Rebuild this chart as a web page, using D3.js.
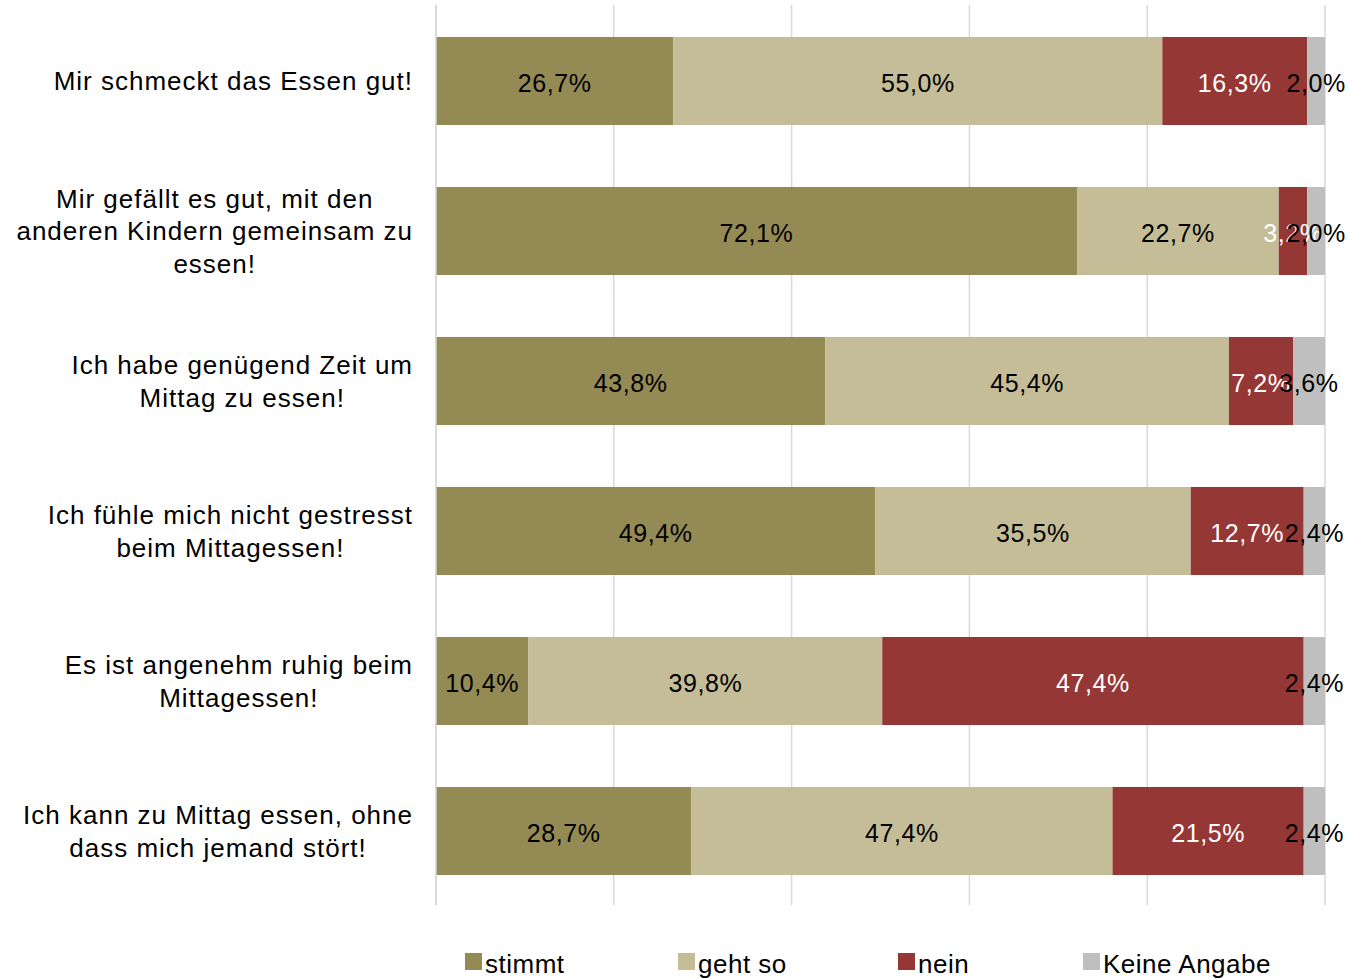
<!DOCTYPE html>
<html><head><meta charset="utf-8">
<script src="https://cdn.jsdelivr.net/npm/d3@7"></script>
<style>body{margin:0;background:#fff;}svg{display:block;font-family:"Liberation Sans",Arial,sans-serif;}</style>
</head><body><svg id="c" width="1350" height="978"></svg>
<script>
const categories = [
  ["Mir schmeckt das Essen gut!"],
  ["Mir gefällt es gut, mit den", "anderen Kindern gemeinsam zu", "essen!"],
  ["Ich habe genügend Zeit um", "Mittag zu essen!"],
  ["Ich fühle mich nicht gestresst", "beim Mittagessen!"],
  ["Es ist angenehm ruhig beim", "Mittagessen!"],
  ["Ich kann zu Mittag essen, ohne", "dass mich jemand stört!"]
];
const seriesNames = ["stimmt", "geht so", "nein", "Keine Angabe"];
const stimmt = [26.7, 72.1, 43.8, 49.4, 10.4, 28.7];
const gehtSo = [55.0, 22.7, 45.4, 35.5, 39.8, 47.4];
const nein = [16.3, 3.2, 7.2, 12.7, 47.4, 21.5];
const keineAngabe = [2.0, 2.0, 3.6, 2.4, 2.4, 2.4];
const xTicks = [0, 20, 40, 60, 80, 100];

const colors = ["#948A54", "#C4BD97", "#953735", "#BFBFBF"];
const labelColors = ["#000", "#000", "#fff", "#000"];
const series = [stimmt, gehtSo, nein, keineAngabe];

const svg = d3.select("#c");
const x = d3.scaleLinear().domain([0, 100]).range([436, 1325]);
const y = d3.scaleBand().domain(d3.range(categories.length)).range([6, 906]).paddingInner(0.413).paddingOuter(0.2065);

// gridlines
svg.append("g").selectAll("line").data(xTicks).join("line")
  .attr("x1", d => x(d)).attr("x2", d => x(d))
  .attr("y1", 5).attr("y2", 905)
  .attr("stroke", "#D9D9D9").attr("stroke-width", 1.5);

const rows = categories.map((c, i) => {
  let acc = 0;
  return series.map((s, k) => { const o = {row: i, k, v: s[i], x0: acc}; acc += s[i]; return o; });
}).flat();

svg.append("g").selectAll("rect").data(rows).join("rect")
  .attr("x", d => x(d.x0)).attr("width", d => x(d.x0 + d.v) - x(d.x0))
  .attr("y", d => y(d.row)).attr("height", y.bandwidth())
  .attr("fill", d => colors[d.k]);

// left axis line
svg.append("line").attr("x1", x(0)).attr("x2", x(0)).attr("y1", 5).attr("y2", 905)
  .attr("stroke", "#D9D9D9").attr("stroke-width", 1.5);

const fmt = v => v.toFixed(1).replace(".", ",") + "%";
svg.append("g").selectAll("text").data(rows).join("text")
  .attr("x", d => x(d.x0 + d.v / 2))
  .attr("y", d => y(d.row) + y.bandwidth() / 2 + 2)
  .attr("dy", "0.36em")
  .attr("text-anchor", "middle")
  .attr("font-size", 25)
  .attr("letter-spacing", "0.6px")
  .attr("fill", d => labelColors[d.k])
  .text(d => fmt(d.v));

// category labels
const lh = 32.5;
categories.forEach((lines, i) => {
  const g = svg.append("g");
  const cy = y(i) + y.bandwidth() / 2;
  const texts = lines.map((l, j) => g.append("text")
    .attr("font-size", 26).attr("letter-spacing", "1px").attr("text-anchor", "middle")
    .attr("y", cy + (j - (lines.length - 1) / 2) * lh).attr("dy", "0.36em").text(l));
  const maxW = d3.max(texts, t => t.node().getComputedTextLength());
  texts.forEach(t => t.attr("x", 413 - maxW / 2));
});

// legend
const legX = [465, 678, 898, 1083];
const lg = svg.append("g").selectAll("g").data(seriesNames).join("g")
  .attr("transform", (d, i) => `translate(${legX[i]},953)`);
lg.append("rect").attr("width", 17).attr("height", 17).attr("fill", (d, i) => colors[i]);
lg.append("text").attr("x", 20).attr("y", 20).attr("font-size", 26).attr("letter-spacing", "0.5px").text(d => d);
</script></body></html>
